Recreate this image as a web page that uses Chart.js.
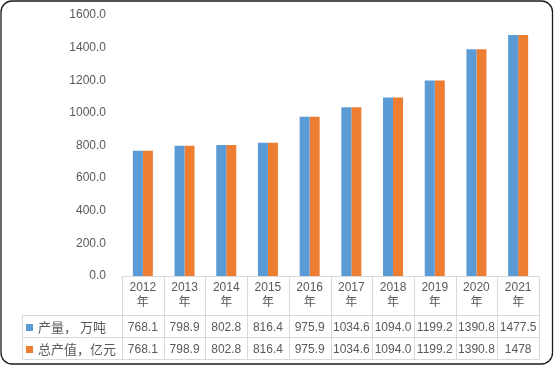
<!DOCTYPE html>
<html><head><meta charset="utf-8">
<script src="https://cdn.jsdelivr.net/npm/chart.js@4/dist/chart.umd.min.js"></script>
<style>html,body{margin:0;padding:0;background:#fff}canvas{display:block}</style>
</head><body>
<canvas id="c" width="554" height="368"></canvas>
<script>
// ---- data ----
const years = ['2012','2013','2014','2015','2016','2017','2018','2019','2020','2021'];
const yearSuffix = '年';
const seriesNames = ['产量， 万吨', '总产值，亿元'];
const outputText = ['768.1','798.9','802.8','816.4','975.9','1034.6','1094.0','1199.2','1390.8','1477.5'];
const valueText  = ['768.1','798.9','802.8','816.4','975.9','1034.6','1094.0','1199.2','1390.8','1478'];
const outputValues = outputText.map(Number);
const valueValues = valueText.map(Number);
const yMin = 0, yMax = 1600, yStep = 200;

const colors = ['#5B9BD5', '#ED7D31'];
const textColor = '#595959';
const numFont = '12px "Liberation Sans", Arial, sans-serif';
const cjkFont = '13px "Noto Sans CJK SC", "Liberation Sans", sans-serif';

const tablePlugin = {
  id: 'dataTable',
  beforeDraw(chart) {
    const ctx = chart.ctx;
    ctx.save();
    ctx.fillStyle = '#fff';
    ctx.fillRect(0, 0, chart.width, chart.height);
    ctx.restore();
  },
  afterDraw(chart) {
    const { ctx, chartArea, scales } = chart;
    const x = scales.x;
    const n = years.length;
    const w = (chartArea.right - chartArea.left) / n;
    const top = Math.round(chartArea.bottom) + 0.5;
    const h0 = top + 39;
    const h1 = h0 + 22;
    const h2 = h1 + 22;
    const tLeft = 22.5;
    const tRight = Math.round(chartArea.right) + 0.5;
    ctx.save();
    ctx.strokeStyle = '#d9d9d9';
    ctx.lineWidth = 1;
    const line = (x1, y1, x2, y2) => { ctx.beginPath(); ctx.moveTo(x1, y1); ctx.lineTo(x2, y2); ctx.stroke(); };
    line(chartArea.left, top, tRight, top);
    line(tLeft, h0, tRight, h0);
    line(tLeft, h1, tRight, h1);
    line(tLeft, h2, tRight, h2);
    for (let i = 0; i <= n; i++) {
      const xx = Math.round(x.getPixelForValue(0) - w / 2 + i * w) + 0.5;
      line(xx, top, xx, h2);
    }
    line(tLeft, h0, tLeft, h2);

    // legend keys + names
    const rows = [outputText, valueText];
    const rowY = [(h0 + h1) / 2, (h1 + h2) / 2];
    ctx.textBaseline = 'middle';
    rows.forEach((r, k) => {
      ctx.fillStyle = colors[k];
      ctx.fillRect(26, Math.round(rowY[k]) - 3, 7, 7);
      ctx.fillStyle = textColor;
      ctx.font = cjkFont;
      ctx.textAlign = 'left';
      ctx.fillText(seriesNames[k], 38, rowY[k] + 1);
      ctx.font = numFont;
      ctx.textAlign = 'center';
      r.forEach((t, i) => ctx.fillText(t, x.getPixelForValue(i), rowY[k] + 1));
    });

    // frame
    ctx.strokeStyle = '#1a1a1a';
    ctx.lineWidth = 1.3;
    ctx.beginPath();
    ctx.roundRect(1, 1, 551.5, 363, 11);
    ctx.stroke();
    ctx.restore();
  }
};

new Chart(document.getElementById('c'), {
  type: 'bar',
  data: {
    labels: years,
    datasets: [
      { label: seriesNames[0], data: outputValues, backgroundColor: colors[0], barPercentage: 1, categoryPercentage: 0.48 },
      { label: seriesNames[1], data: valueValues, backgroundColor: colors[1], barPercentage: 1, categoryPercentage: 0.48 }
    ]
  },
  options: {
    responsive: false,
    animation: false,
    layout: { padding: { left: 0, right: 15, top: 15, bottom: 53 } },
    plugins: { legend: { display: false }, tooltip: { enabled: false } },
    scales: {
      x: {
        grid: { display: false, drawTicks: false },
        border: { display: false },
        ticks: {
          color: textColor,
          font: { family: '"Liberation Sans", "Noto Sans CJK SC", sans-serif', size: 12, lineHeight: 1.25 },
          padding: 4,
          maxRotation: 0,
          autoSkip: false,
          callback: (v, i) => [years[i], yearSuffix]
        },
        afterFit: s => { s.height = 39; }
      },
      y: {
        min: yMin, max: yMax,
        grid: { display: false, drawTicks: false },
        border: { display: false },
        ticks: {
          stepSize: yStep,
          color: textColor,
          font: { family: '"Liberation Sans", sans-serif', size: 12 },
          padding: 16,
          callback: v => Number(v).toFixed(1)
        },
        afterFit: s => { s.width = 122; s.paddingTop = 0; s.paddingBottom = 0; }
      }
    }
  },
  plugins: [tablePlugin]
});
</script>
</body></html>
